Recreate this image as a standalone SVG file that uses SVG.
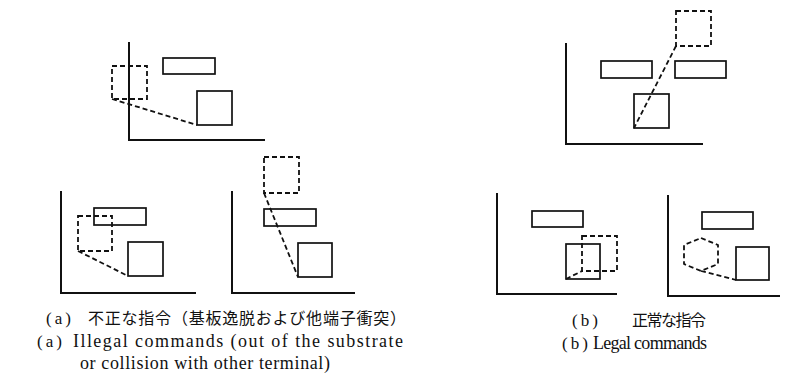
<svg xmlns="http://www.w3.org/2000/svg" width="794" height="378" viewBox="0 0 794 378">
<style>
.ax{fill:none;stroke:#111;stroke-width:2}
.bx{fill:none;stroke:#111;stroke-width:1.7}
.dx{fill:none;stroke:#111;stroke-width:1.8;stroke-dasharray:5 3}
.jp{font-family:"Liberation Serif","Noto Sans CJK JP",serif;font-size:16px;fill:#111}
.en{font-family:"Liberation Serif","Noto Sans CJK JP",serif;font-size:18px;fill:#111}
.lb{font-family:"Liberation Serif",serif;font-size:17px;fill:#111;letter-spacing:3px}
</style>
<rect width="794" height="378" fill="#fff"/>
<g id="panel-a1">
<path class="ax" d="M129,42 V140 H265"/>
<rect class="bx" x="163" y="58" width="52" height="16"/>
<rect class="bx" x="197" y="91" width="35" height="34"/>
<rect class="dx" x="112" y="66" width="35" height="33"/>
</g>
<g id="panel-a2">
<path class="ax" d="M61,191 V293 H196"/>
<rect class="bx" x="94" y="208" width="52" height="17"/>
<rect class="bx" x="128" y="242" width="35" height="34"/>
<rect class="dx" x="78" y="216" width="34" height="35"/>
</g>
<g id="panel-a3">
<path class="ax" d="M232,191 V293 H355"/>
<rect class="bx" x="264" y="209" width="52" height="17"/>
<rect class="bx" x="298" y="243" width="34" height="34"/>
<rect class="dx" x="264" y="157" width="35" height="36"/>
</g>
<g id="panel-b1">
<path class="ax" d="M566,43 V144 H703"/>
<rect class="bx" x="601" y="61" width="51" height="17"/>
<rect class="bx" x="675" y="61" width="51" height="17"/>
<rect class="bx" x="634" y="94" width="35" height="34"/>
<rect class="dx" x="676" y="11" width="35" height="35"/>
</g>
<g id="panel-b2">
<path class="ax" d="M497,193 V294 H617"/>
<rect class="bx" x="532" y="211" width="51" height="16"/>
<rect class="bx" x="566" y="244" width="34" height="35"/>
<rect class="dx" x="582" y="236" width="35" height="35"/>
</g>
<g id="panel-b3">
<path class="ax" d="M668,195 V296 H780"/>
<rect class="bx" x="702" y="212" width="51" height="17"/>
<rect class="bx" x="736" y="247" width="33" height="33"/>
<polygon class="dx" points="701,238 718,245 718,264 701,271 684,264 684,245"/>
</g>
<g id="connectors">
<line class="dx" x1="112" y1="99" x2="197" y2="125"/>
<line class="dx" x1="78" y1="251" x2="128" y2="276"/>
<line class="dx" x1="264" y1="193" x2="298" y2="277"/>
<line class="dx" x1="676" y1="46" x2="634" y2="128"/>
<line class="dx" x1="566" y1="279" x2="582" y2="271"/>
<line class="dx" x1="701" y1="271" x2="736" y2="280"/>
</g>
<g id="captions">
<text class="lb" x="46" y="324">(a)</text>
<text class="jp" x="88" y="324" textLength="318" lengthAdjust="spacing">不正な指令（基板逸脱および他端子衝突）</text>
<text class="lb" x="37" y="347">(a)</text>
<text class="en" x="73" y="347" textLength="330" lengthAdjust="spacing">Illegal commands (out of the substrate</text>
<text class="en" x="80" y="369" textLength="250" lengthAdjust="spacing">or collision with other terminal)</text>
<text class="lb" x="572" y="326">(b)</text>
<text class="jp" x="632" y="326" textLength="74" lengthAdjust="spacing">正常な指令</text>
<text class="lb" x="562" y="349">(b)</text>
<text class="en" x="593" y="349" textLength="114" lengthAdjust="spacing">Legal commands</text>
</g>
</svg>
